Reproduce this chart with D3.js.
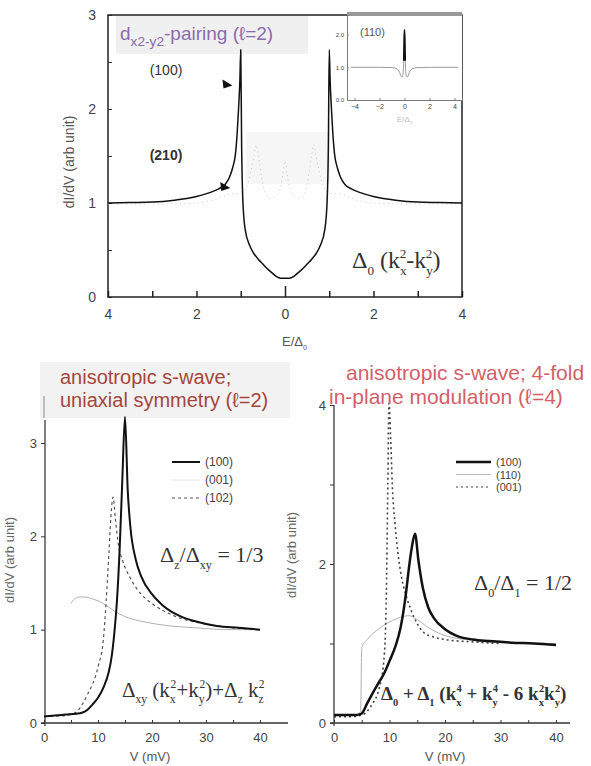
<!DOCTYPE html>
<html lang="en">
<head>
<meta charset="UTF-8">
<script src="https://cdn.jsdelivr.net/npm/d3@7"></script>
<title>dI/dV tunnelling spectra</title>
<style>
    body { margin: 0; background: #fff; }
    svg { display: block; font-family: "Liberation Sans", Arial, sans-serif; }
    .tick text { fill: #444; }
    .serif { font-family: "Liberation Serif", "DejaVu Serif", serif; fill: #333; }
</style>
</head>
<body>
<script>
// ---------- data ----------
// top panel, d-wave, (100) solid curve
const topE100 = [-4, -3.5, -3, -2.5, -2, -1.7, -1.5, -1.35, -1.25, -1.18, -1.12, -1.08, -1.05, -1.02, -1.0,
    -0.98, -0.95, -0.9, -0.8, -0.7, -0.6, -0.5, -0.4, -0.3, -0.2, -0.1, 0,
    0.1, 0.2, 0.3, 0.4, 0.5, 0.6, 0.7, 0.8, 0.9, 0.95, 0.98,
    1.0, 1.02, 1.05, 1.08, 1.12, 1.18, 1.25, 1.35, 1.5, 1.7, 2, 2.5, 3, 3.5, 4];
const topG100 = [1.0, 1.005, 1.01, 1.03, 1.07, 1.11, 1.15, 1.2, 1.28, 1.38, 1.52, 1.75, 2.0, 2.3, 2.63,
    1.6, 1.0, 0.72, 0.55, 0.46, 0.4, 0.35, 0.3, 0.26, 0.22, 0.2, 0.2,
    0.2, 0.22, 0.26, 0.3, 0.35, 0.4, 0.46, 0.55, 0.72, 1.0, 1.6,
    2.63, 2.3, 2.0, 1.75, 1.52, 1.38, 1.28, 1.2, 1.15, 1.11, 1.07, 1.03, 1.01, 1.005, 1.0];
// (210) faint dotted curve
const topE210 = [-4, -3, -2, -1.5, -1.2, -1.0, -0.85, -0.7, -0.65, -0.6, -0.5, -0.35, -0.15, -0.05, 0,
    0.05, 0.15, 0.35, 0.5, 0.6, 0.65, 0.7, 0.85, 1.0, 1.2, 1.5, 2, 3, 4];
const topG210 = [0.99, 0.99, 1.0, 1.05, 1.1, 1.1, 1.2, 1.5, 1.62, 1.5, 1.2, 1.05, 1.1, 1.3, 1.45,
    1.3, 1.1, 1.05, 1.2, 1.5, 1.62, 1.5, 1.2, 1.1, 1.1, 1.05, 1.0, 0.99, 0.99];
// inset, (110)
const insetE = [-4.3, -2, -1, -0.6, -0.4, -0.3, -0.2, -0.12, -0.06, -0.03, 0, 0.03, 0.06, 0.12, 0.2, 0.3, 0.4, 0.6, 1, 2, 4.3];
const insetG = [1, 1, 0.99, 0.95, 0.85, 0.75, 0.7, 0.8, 1.2, 1.8, 2.15, 1.8, 1.2, 0.8, 0.7, 0.75, 0.85, 0.95, 0.99, 1, 1];

// bottom left, uniaxial s-wave
const blV100 = [0, 2, 4, 6, 7, 8, 9, 10, 11, 12, 12.5, 13, 13.5, 14, 14.5, 15, 15.5, 16, 17, 18, 20, 22, 25, 28, 32, 36, 40];
const blG100 = [0.07, 0.08, 0.09, 0.1, 0.11, 0.14, 0.2, 0.27, 0.38, 0.55, 0.7, 0.95, 1.3, 1.85, 2.6, 3.28, 2.5, 2.1, 1.75, 1.57, 1.38, 1.26, 1.15, 1.09, 1.04, 1.02, 1.0];
const blV001 = [5, 5.5, 6.5, 7.5, 9, 11, 13, 15, 18, 22, 28, 35, 40];
const blG001 = [1.28, 1.32, 1.35, 1.35, 1.33, 1.28, 1.2, 1.14, 1.09, 1.05, 1.02, 1.0, 1.0];
const blV102 = [0, 4, 6, 8, 10, 11, 11.5, 12, 12.5, 12.8, 13.2, 13.8, 14.5, 16, 18, 20, 24, 30, 35, 40];
const blG102 = [0.07, 0.08, 0.12, 0.3, 0.6, 0.9, 1.3, 1.8, 2.3, 2.42, 2.2, 1.9, 1.75, 1.55, 1.38, 1.28, 1.15, 1.06, 1.02, 1.0];

// bottom right, 4-fold s-wave
const brV100 = [0, 2, 4, 5, 6, 7, 8, 9, 10, 11, 12, 12.5, 13, 13.5, 14, 14.6, 15.2, 16, 17, 18, 20, 22, 25, 28, 32, 36, 40];
const brG100 = [0.1, 0.1, 0.1, 0.12, 0.25, 0.38, 0.5, 0.62, 0.78, 0.95, 1.2, 1.4, 1.65, 1.95, 2.2, 2.38, 2.05, 1.7, 1.45, 1.32, 1.18, 1.1, 1.05, 1.03, 1.01, 1.0, 0.98];
const brV110 = [0, 2, 4, 4.8, 5, 6, 8, 10, 12, 13.5, 15, 17, 20, 25, 30, 40];
const brG110 = [0.1, 0.1, 0.1, 0.15, 0.95, 1.05, 1.18, 1.27, 1.33, 1.35, 1.3, 1.2, 1.1, 1.04, 1.01, 1.0];
const brV001 = [0, 3, 5, 6, 7, 8, 9, 9.4, 9.7, 9.9, 10.2, 10.5, 11, 11.5, 12, 13, 14, 15, 16, 18, 20, 25, 30];
const brG001 = [0.08, 0.08, 0.1, 0.15, 0.25, 0.4, 0.8, 1.5, 3.0, 4.02, 3.6, 3.0, 2.5, 2.15, 1.9, 1.6, 1.4, 1.25, 1.15, 1.08, 1.05, 1.02, 1.0];

// tick labels
const topXTicks = [-4, -3, -2, -1, 0, 1, 2, 3, 4];
const topXLabels = ["4", "", "2", "", "0", "", "2", "", "4"];
const topYTicks = [0, 0.5, 1, 1.5, 2, 2.5, 3];
const insetXTicks = [-4, -2, 0, 2, 4];
const vTicks = [0, 5, 10, 15, 20, 25, 30, 35, 40];

// ---------- layout ----------
const W = 591, H = 766;
const svg = d3.select("body").append("svg").attr("width", W).attr("height", H);

const zip = (xs, ys) => xs.map((x, i) => [x, ys[i]]);

function drawLine(g, xs, ys, sx, sy, stroke, width, dash) {
    const line = d3.line().x(d => sx(d[0])).y(d => sy(d[1])).curve(d3.curveMonotoneX);
    return g.append("path")
        .datum(zip(xs, ys))
        .attr("d", line)
        .attr("fill", "none")
        .attr("stroke", stroke)
        .attr("stroke-width", width)
        .attr("stroke-dasharray", dash || null)
        .attr("stroke-linejoin", "round");
}

// text with sub/superscripts: parts = [[text, "sub"|"sup"|"", dx]]
function richText(g, x, y, parts, size, cls, fill, small) {
    const t = g.append("text").attr("x", x).attr("y", y).attr("font-size", size);
    if (cls) t.attr("class", cls);
    if (fill) t.attr("fill", fill);
    let shift = 0;
    parts.forEach(p => {
        const [txt, kind, dx] = p;
        let target = kind === "sub" ? size * 0.3 : kind === "sup" ? -size * 0.42 : 0;
        const ts = t.append("tspan").text(txt).attr("dy", target - shift);
        if (dx) ts.attr("dx", dx);
        if (kind) ts.attr("font-size", size * (small || 0.55));
        shift = target;
    });
    return t;
}

// scan background patches
const patches = [[116, 16, 192, 38, "#f0f0f0"], [246, 132, 84, 52, "#f6f6f6"], [40, 362, 250, 56, "#f2f2f2"]];
patches.forEach(p => svg.append("rect").attr("x", p[0]).attr("y", p[1]).attr("width", p[2]).attr("height", p[3]).attr("fill", p[4]));

/*------------------------- top panel -------------------------*/
const xT = d3.scaleLinear().domain([-4, 4]).range([108, 462]);
const yT = d3.scaleLinear().domain([0, 3]).range([297, 15]);
const gT = svg.append("g");

gT.append("g").attr("transform", "translate(0,297)")
    .call(d3.axisBottom(xT).tickValues(topXTicks).tickSize(-6).tickPadding(12)
        .tickFormat((d, i) => topXLabels[i]))
    .call(g => g.selectAll("text").attr("font-size", 14))
    .call(g => g.selectAll("line").attr("stroke", "#222").attr("stroke-width", 1.5)
        .attr("y2", d => d === 0 ? -11 : -6))
    .call(g => g.select(".domain").remove());
gT.append("g").attr("transform", "translate(108,0)")
    .call(d3.axisLeft(yT).tickValues(topYTicks).tickSize(-4).tickPadding(12)
        .tickFormat(d => Number.isInteger(d) ? d : ""))
    .call(g => g.selectAll("text").attr("font-size", 14))
    .call(g => g.selectAll("line").attr("stroke", "#333"))
    .call(g => g.select(".domain").remove());
gT.append("rect").attr("x", 108).attr("y", 15).attr("width", 354).attr("height", 282)
    .attr("fill", "none").attr("stroke", "#222").attr("stroke-width", 1.5);

drawLine(gT, topE210, topG210, xT, yT, "#c8c8c8", 1, "1,3.5");
drawLine(gT, topE100, topG100, xT, yT, "#111", 1.5);

richText(gT, 120, 40, [["d", ""], ["x2-y2", "sub"], ["-pairing (ℓ=2)", ""]], 19, null, "#8b6bab", 0.72);
gT.append("text").attr("x", 166).attr("y", 75).attr("text-anchor", "middle")
    .attr("font-size", 14).attr("fill", "#333").text("(100)");
gT.append("text").attr("x", 166).attr("y", 160).attr("text-anchor", "middle")
    .attr("font-size", 14).attr("fill", "#333").attr("font-weight", "bold").text("(210)");

// pointer triangles
const arrowE = [-1.3, -1.35];
const arrowG = [2.26, 1.17];
arrowE.forEach((e, i) => {
    const x = xT(e), y = yT(arrowG[i]);
    gT.append("path").attr("d", `M${x - 5},${y - 5} L${x + 5},${y + 1} L${x - 4},${y + 4} Z`).attr("fill", "#111");
});

richText(gT, 352, 268, [["Δ", ""], ["0", "sub"], [" (k", ""], ["x", "sub"], ["2", "sup", -7], ["-k", ""], ["y", "sub"], ["2", "sup", -7], [")", ""]], 24, "serif");

gT.append("text").attr("transform", "translate(74,162) rotate(-90)").attr("text-anchor", "middle")
    .attr("font-size", 14).attr("fill", "#555").text("dI/dV (arb  unit)");
richText(gT, 282, 346, [["E/Δ", ""], ["0", "sub"]], 13, null, "#555");

// inset
const xI = d3.scaleLinear().domain([-4.6, 4.6]).range([347, 462]);
const yI = d3.scaleLinear().domain([0, 2.6]).range([100, 15]);
const gI = svg.append("g");
gI.append("rect").attr("x", 347).attr("y", 15).attr("width", 115).attr("height", 85).attr("fill", "#fff");
gI.append("rect").attr("x", 347).attr("y", 12).attr("width", 115).attr("height", 4).attr("fill", "#999");
gI.append("g").attr("transform", "translate(0,100)")
    .call(d3.axisBottom(xI).tickValues(insetXTicks).tickSize(-2).tickPadding(4))
    .call(g => g.selectAll("text").attr("font-size", 7).attr("fill", "#999"))
    .call(g => g.selectAll("line").attr("stroke", "#888"))
    .call(g => g.select(".domain").attr("stroke", "#777"));
gI.append("g").attr("transform", "translate(347,0)")
    .call(d3.axisLeft(yI).tickValues([0, 1, 2]).tickSize(-2).tickPadding(3))
    .call(g => g.selectAll("text").attr("font-size", 6).attr("fill", "#999"))
    .call(g => g.selectAll("line").attr("stroke", "#888"))
    .call(g => g.select(".domain").attr("stroke", "#777"));
drawLine(gI, insetE, insetG, xI, yI, "#999", 1);
drawLine(gI, insetE.slice(8, 13), insetG.slice(8, 13), xI, yI, "#111", 1.6);
gI.append("text").attr("x", 360).attr("y", 36).attr("font-size", 11).attr("fill", "#555").text("(110)");
richText(gI, 397, 122, [["E/Δ", ""], ["0", "sub"]], 8, null, "#bbb");

/*---------------------- bottom panels ------------------------*/
function bottomAxes(g, sx, sy, x0, y0, yTickVals, yLabelVals, xEnd, yTop) {
    g.append("line").attr("x1", x0 - 4).attr("x2", xEnd).attr("y1", y0).attr("y2", y0)
        .attr("stroke", "#333").attr("stroke-width", 1.5);
    g.append("line").attr("x1", x0).attr("x2", x0).attr("y1", y0 + 3).attr("y2", yTop)
        .attr("stroke", "#555").attr("stroke-width", 1.5);
    g.append("g").attr("transform", `translate(0,${y0})`)
        .call(d3.axisBottom(sx).tickValues(vTicks).tickSize(-3).tickPadding(10)
            .tickFormat(d => d % 10 === 0 ? d : ""))
        .call(a => a.selectAll("text").attr("font-size", 13))
        .call(a => a.selectAll("line").attr("stroke", "#333"))
        .call(a => a.select(".domain").remove());
    g.append("g").attr("transform", `translate(${x0},0)`)
        .call(d3.axisLeft(sy).tickValues(yTickVals).tickSize(4).tickPadding(4)
            .tickFormat(d => yLabelVals.includes(d) ? d : ""))
        .call(a => a.selectAll("text").attr("font-size", 13))
        .call(a => a.selectAll("line").attr("stroke", "#333"))
        .call(a => a.select(".domain").remove());
}

// bottom left
const xL = d3.scaleLinear().domain([0, 40]).range([44, 260]);
const yL = d3.scaleLinear().domain([0, 3]).range([723, 443]);
const gL = svg.append("g");
bottomAxes(gL, xL, yL, 45, 723, [0, 1, 2, 3], [0, 1, 2, 3], 288, 420);
gL.append("line").attr("x1", 44).attr("x2", 44).attr("y1", 396).attr("y2", 418).attr("stroke", "#888");

drawLine(gL, blV001, blG001, xL, yL, "#b0b0b0", 1);
drawLine(gL, blV102, blG102, xL, yL, "#555", 1.2, "3,3");
drawLine(gL, blV100, blG100, xL, yL, "#111", 2);

gL.append("text").attr("x", 60).attr("y", 384).attr("font-size", 20).attr("fill", "#a5463c").text("anisotropic s-wave;");
gL.append("text").attr("x", 60).attr("y", 407).attr("font-size", 20).attr("fill", "#a5463c").text("uniaxial symmetry (ℓ=2)");

const legL = [["(100)", "#111", 2, null], ["(001)", "#e4e4e4", 1, null], ["(102)", "#555", 1.2, "3,3"]];
legL.forEach((d, i) => {
    const y = 462 + i * 18;
    gL.append("line").attr("x1", 172).attr("x2", 200).attr("y1", y).attr("y2", y)
        .attr("stroke", d[1]).attr("stroke-width", d[2]).attr("stroke-dasharray", d[3]);
    gL.append("text").attr("x", 205).attr("y", y + 4).attr("font-size", 12).attr("fill", "#444").text(d[0]);
});

richText(gL, 160, 562, [["Δ", ""], ["z", "sub"], ["/Δ", ""], ["xy", "sub"], [" = 1/3", ""]], 22, "serif");
richText(gL, 122, 697, [["Δ", ""], ["xy", "sub"], [" (k", ""], ["x", "sub"], ["2", "sup", -5], ["+k", ""], ["y", "sub"], ["2", "sup", -5], [")+Δ", ""], ["z", "sub"], [" k", ""], ["z", "sub"], ["2", "sup", -5]], 21, "serif");

gL.append("text").attr("transform", "translate(14,560) rotate(-90)").attr("text-anchor", "middle")
    .attr("font-size", 13).attr("fill", "#666").text("dI/dV (arb  unit)");
gL.append("text").attr("x", 150).attr("y", 761).attr("text-anchor", "middle")
    .attr("font-size", 13).attr("fill", "#555").text("V (mV)");

// bottom right
const xR = d3.scaleLinear().domain([0, 40]).range([334, 556]);
const yR = d3.scaleLinear().domain([0, 4]).range([723, 405]);
const gR = svg.append("g");
bottomAxes(gR, xR, yR, 334, 723, [0, 1, 2, 3, 4], [0, 2, 4], 570, 405);

drawLine(gR, brV110, brG110, xR, yR, "#b0b0b0", 1);
drawLine(gR, brV001, brG001, xR, yR, "#444", 1.6, "2,3");
drawLine(gR, brV100, brG100, xR, yR, "#111", 2.5);

gR.append("text").attr("x", 346).attr("y", 380).attr("font-size", 21).attr("fill", "#d2606a").text("anisotropic s-wave; 4-fold");
gR.append("text").attr("x", 329).attr("y", 404).attr("font-size", 21).attr("fill", "#d2606a").text("in-plane modulation (ℓ=4)");

const legR = [["(100)", "#111", 2.5, null], ["(110)", "#bbb", 1, null], ["(001)", "#444", 1.2, "2,3"]];
legR.forEach((d, i) => {
    const y = 462 + i * 12.5;
    gR.append("line").attr("x1", 456).attr("x2", 491).attr("y1", y).attr("y2", y)
        .attr("stroke", d[1]).attr("stroke-width", d[2]).attr("stroke-dasharray", d[3]);
    gR.append("text").attr("x", 496).attr("y", y + 4).attr("font-size", 11).attr("fill", "#444").text(d[0]);
});

richText(gR, 474, 590, [["Δ", ""], ["0", "sub"], ["/Δ", ""], ["1", "sub"], [" = 1/2", ""]], 22, "serif");
richText(gR, 381, 700, [["Δ", ""], ["0", "sub"], [" + Δ", ""], ["1", "sub"], [" (k", ""], ["x", "sub"], ["4", "sup", -5], [" + k", ""], ["y", "sub"], ["4", "sup", -5], [" - 6 k", ""], ["x", "sub"], ["2", "sup", -5], ["k", ""], ["y", "sub"], ["2", "sup", -5], [")", ""]], 19, "serif")
    .attr("font-weight", "bold");

gR.append("text").attr("transform", "translate(296,555) rotate(-90)").attr("text-anchor", "middle")
    .attr("font-size", 13).attr("fill", "#666").text("dI/dV (arb  unit)");
gR.append("text").attr("x", 445).attr("y", 761).attr("text-anchor", "middle")
    .attr("font-size", 13).attr("fill", "#555").text("V (mV)");
</script>
</body>
</html>
